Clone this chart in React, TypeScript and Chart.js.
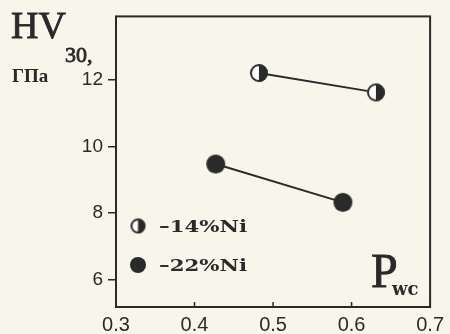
import React, { useEffect, useRef } from 'react';
import { Chart, registerables } from 'chart.js';

Chart.register(...registerables);

// ---- data ----
const seriesLabels = ['–14%Ni', '–22%Ni'];
const ni14X = [0.482, 0.631];
const ni14Y = [12.2, 11.62];
const ni22X = [0.427, 0.589];
const ni22Y = [9.47, 8.32];
const xTicks = [0.3, 0.4, 0.5, 0.6, 0.7];
const yTicks = [6, 8, 10, 12];
const xTickLabels = ['0.3', '0.4', '0.5', '0.6', '0.7'];
const yTickLabels = ['6', '8', '10', '12'];
const yTitle = 'HV';
const yTitleSub = '30,';
const yUnit = 'ГПа';
const xTitle = 'P';
const xTitleSub = 'wc';

const INK = '#2a2a2a';
const BG = '#f8f6ea';
const SERIF = '"Liberation Serif", "DejaVu Serif", serif';
const SERIF_BOLD = '"DejaVu Serif", "Liberation Serif", serif';
const SANS = '"Liberation Sans", Arial, sans-serif';

function halfMarker(r: number): HTMLCanvasElement {
  const s = Math.ceil(2 * r + 4);
  const c = document.createElement('canvas');
  c.width = s;
  c.height = s;
  const ctx = c.getContext('2d')!;
  const cx = s / 2;
  ctx.beginPath();
  ctx.arc(cx, cx, r, 0, Math.PI * 2);
  ctx.fillStyle = '#ffffff';
  ctx.fill();
  ctx.beginPath();
  ctx.moveTo(cx, cx);
  ctx.arc(cx, cx, r, -Math.PI / 2, Math.PI / 2);
  ctx.closePath();
  ctx.fillStyle = INK;
  ctx.fill();
  ctx.beginPath();
  ctx.arc(cx, cx, r - 1, 0, Math.PI * 2);
  ctx.lineWidth = 2;
  ctx.strokeStyle = INK;
  ctx.stroke();
  return c;
}

function fullMarker(r: number): HTMLCanvasElement {
  const s = Math.ceil(2 * r + 4);
  const c = document.createElement('canvas');
  c.width = s;
  c.height = s;
  const ctx = c.getContext('2d')!;
  const cx = s / 2;
  ctx.beginPath();
  ctx.arc(cx, cx, r, 0, Math.PI * 2);
  ctx.fillStyle = INK;
  ctx.fill();
  return c;
}

export default function App() {
  const ref = useRef<HTMLCanvasElement>(null);

  useEffect(() => {
    const canvas = ref.current;
    if (!canvas) return;
    const halfBig = halfMarker(9);
    const fullBig = fullMarker(9.5);
    const halfSmall = halfMarker(7.5);
    const fullSmall = fullMarker(8);

    const decor = {
      id: 'decor',
      beforeDraw(chart: any) {
        const ctx = chart.ctx;
        ctx.save();
        ctx.fillStyle = BG;
        ctx.fillRect(0, 0, chart.width, chart.height);
        ctx.restore();
      },
      afterDraw(chart: any) {
        const ctx = chart.ctx;
        const a = chart.chartArea;
        const xs = chart.scales.x;
        ctx.save();
        // frame
        ctx.strokeStyle = INK;
        ctx.lineWidth = 2;
        ctx.strokeRect(a.left, a.top, a.right - a.left, a.bottom - a.top);
        // inner x tick marks
        ctx.lineWidth = 1.5;
        xTicks.forEach((v) => {
          const px = xs.getPixelForValue(v);
          ctx.beginPath();
          ctx.moveTo(px, a.bottom);
          ctx.lineTo(px, a.bottom - 5);
          ctx.stroke();
        });
        ctx.fillStyle = INK;
        ctx.strokeStyle = INK;
        ctx.textBaseline = 'alphabetic';
        ctx.textAlign = 'left';
        // y title
        ctx.font = `38px ${SERIF}`;
        ctx.lineWidth = 0.8;
        ctx.fillText(yTitle, 11, 38);
        ctx.strokeText(yTitle, 11, 38);
        const w = ctx.measureText(yTitle).width;
        ctx.font = `22px ${SERIF}`;
        ctx.fillText(yTitleSub, 10 + w, 62);
        ctx.strokeText(yTitleSub, 10 + w, 62);
        ctx.font = `bold 19px ${SERIF}`;
        ctx.fillText(yUnit, 12, 82);
        // x title inside plot
        ctx.font = `48px ${SERIF}`;
        ctx.fillText(xTitle, 371, 287);
        ctx.strokeText(xTitle, 371, 287);
        ctx.font = `bold 18px ${SERIF_BOLD}`;
        ctx.fillText(xTitleSub, 392, 295);
        // legend
        const items = [
          { img: halfSmall, y: 226, label: seriesLabels[0] },
          { img: fullSmall, y: 265, label: seriesLabels[1] },
        ];
        items.forEach((it) => {
          ctx.drawImage(it.img, 138 - it.img.width / 2, it.y - it.img.height / 2);
          ctx.font = `bold 16px ${SERIF_BOLD}`;
          const tw = ctx.measureText(it.label).width;
          ctx.save();
          ctx.translate(159, it.y + 6);
          ctx.scale(88 / tw, 1);
          ctx.fillText(it.label, 0, 0);
          ctx.restore();
        });
        ctx.restore();
      },
    };

    const chart = new Chart(canvas, {
      type: 'scatter',
      data: {
        datasets: [
          {
            label: seriesLabels[0],
            data: ni14X.map((x, i) => ({ x, y: ni14Y[i] })),
            showLine: true,
            borderColor: INK,
            borderWidth: 2,
            pointStyle: halfBig as any,
            pointRadius: 9,
          },
          {
            label: seriesLabels[1],
            data: ni22X.map((x, i) => ({ x, y: ni22Y[i] })),
            showLine: true,
            borderColor: INK,
            borderWidth: 2,
            pointStyle: fullBig as any,
            pointRadius: 9,
          },
        ],
      },
      options: {
        responsive: false,
        animation: false,
        layout: { padding: { top: 10, right: 13, left: 0, bottom: 0 } },
        plugins: {
          legend: { display: false },
          tooltip: { enabled: false },
        },
        scales: {
          x: {
            type: 'linear',
            min: 0.3,
            max: 0.7,
            afterBuildTicks: (s: any) => {
              s.ticks = xTicks.map((v) => ({ value: v }));
            },
            afterFit: (s: any) => {
              s.height = 27;
            },
            grid: { display: false, drawTicks: false },
            border: { display: false },
            ticks: {
              padding: 6,
              color: INK,
              font: { family: SANS, size: 20 },
              callback: (v: any) => {
                const i = xTicks.findIndex((t) => Math.abs(t - v) < 1e-9);
                return i >= 0 ? xTickLabels[i] : '';
              },
            },
          },
          y: {
            type: 'linear',
            min: 5.18,
            max: 13.9,
            afterBuildTicks: (s: any) => {
              s.ticks = yTicks.map((v) => ({ value: v }));
            },
            afterFit: (s: any) => {
              s.width = 116;
            },
            grid: {
              drawOnChartArea: false,
              drawTicks: true,
              tickLength: 8,
              color: INK,
              lineWidth: 1.5,
            },
            border: { display: false },
            ticks: {
              padding: 5,
              color: INK,
              font: { family: SANS, size: 19 },
              callback: (v: any) => {
                const i = yTicks.findIndex((t) => Math.abs(t - v) < 1e-9);
                return i >= 0 ? yTickLabels[i] : '';
              },
            },
          },
        },
      },
      plugins: [decor],
    });
    return () => chart.destroy();
  }, []);

  return (
    <div style={{ position: 'fixed', left: 0, top: 0, width: 450, height: 334, background: BG }}>
      <canvas ref={ref} width={450} height={334} style={{ display: 'block' }} />
    </div>
  );
}
